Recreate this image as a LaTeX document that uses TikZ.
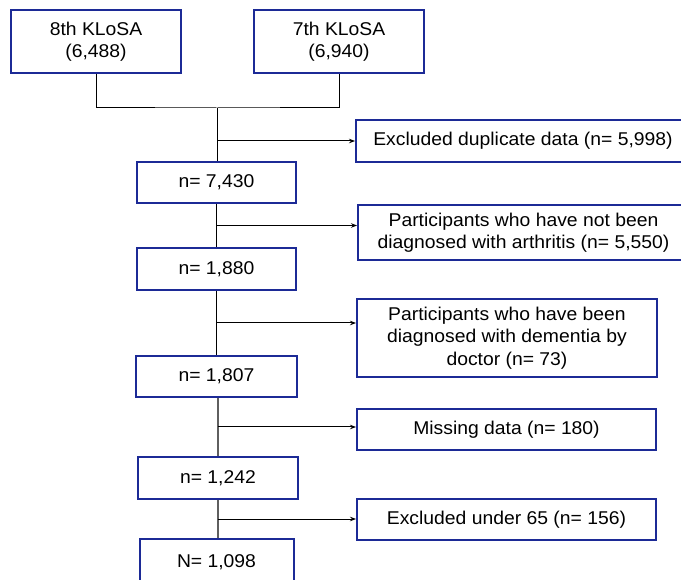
\documentclass[tikz,border=0pt]{standalone}
\usepackage{fontspec}
\setmainfont{Liberation Sans}[FakeStretch=1.045]
\usetikzlibrary{arrows.meta,calc}
\definecolor{boxblue}{RGB}{28,42,150}
\definecolor{trunkgrey}{RGB}{95,95,95}
\tikzset{
  box/.style={draw=boxblue, line width=2pt, inner sep=0pt, align=center,
    font=\fontsize{18.5}{22.5}\selectfont, text=black},
  conn/.style={draw=black, line width=1pt},
  arr/.style={conn, -{Stealth[length=6pt,width=4.5pt]}},
  greyconn/.style={draw=trunkgrey, line width=1.8pt}
}
\begin{document}
\begin{tikzpicture}[x=1pt,y=-1pt]
\useasboundingbox (0,0) rectangle (681,580);
\begin{scope}
\clip (0,0) rectangle (681,580);
\node[box, minimum width=170pt, minimum height=63pt] (b8) at (96,41.5) {8th KLoSA\\(6,488)};
\node[box, minimum width=170pt, minimum height=63pt] (b7) at (339,41.5) {7th KLoSA\\(6,940)};
\node[box, minimum width=159pt, minimum height=41pt] (n1) at (216.5,182.5) {n= 7,430};
\node[box, minimum width=334pt, minimum height=42pt] (e1) at (523,141) {Excluded duplicate data (n= 5,998)};
\node[box, minimum width=159pt, minimum height=42pt] (n2) at (216.5,269) {n= 1,880};
\node[box, minimum width=331pt, minimum height=55pt] (e2) at (523.5,232.5) {Participants who have not been\\diagnosed with arthritis (n= 5,550)};
\node[box, minimum width=300pt, minimum height=78pt] (e3) at (507,338) {Participants who have been\\diagnosed with dementia by\\doctor (n= 73)};
\node[box, minimum width=161pt, minimum height=41pt] (n3) at (216.5,376.5) {n= 1,807};
\node[box, minimum width=299pt, minimum height=41pt] (e4) at (506.5,429.5) {Missing data (n= 180)};
\node[box, minimum width=160pt, minimum height=42pt] (n4) at (218,478) {n= 1,242};
\node[box, minimum width=299pt, minimum height=41pt] (e5) at (506.5,519.5) {Excluded under 65 (n= 156)};
\node[box, minimum width=154pt, minimum height=46pt] (n5) at (216.5,562) {N= 1,098};
\end{scope}
\coordinate (j) at (217,108);
\draw[conn] (b8.south) |- (j) -| (b7.south);
\draw[conn] (j) -- (j |- n1.north);
\draw[arr] (j |- e1.west) -- (e1.west);
\draw[conn] (n1.south) -- (n2.north);
\coordinate (m2) at ($(n1.south)!0.5!(n2.north)$);
\draw[arr] (m2) -- (m2 -| e2.west);
\draw[conn] (n2.south) -- (n3.north -| n2.south);
\coordinate (m3) at ($(n2.south)!0.5!(n2.south |- n3.north)$);
\draw[arr] (m3) -- (m3 -| e3.west);
\draw[greyconn] (n3.south -| n4.north) -- (n4.north);
\coordinate (m4) at ($(n4.north)!0.5!(n4.north |- n3.south)$);
\draw[arr] (m4) -- (m4 -| e4.west);
\draw[greyconn] (n4.south) -- (n4.south |- n5.north);
\coordinate (m5) at ($(n4.south)!0.5!(n4.south |- n5.north)$);
\draw[arr] (m5) -- (m5 -| e5.west);
\end{tikzpicture}
\end{document}
